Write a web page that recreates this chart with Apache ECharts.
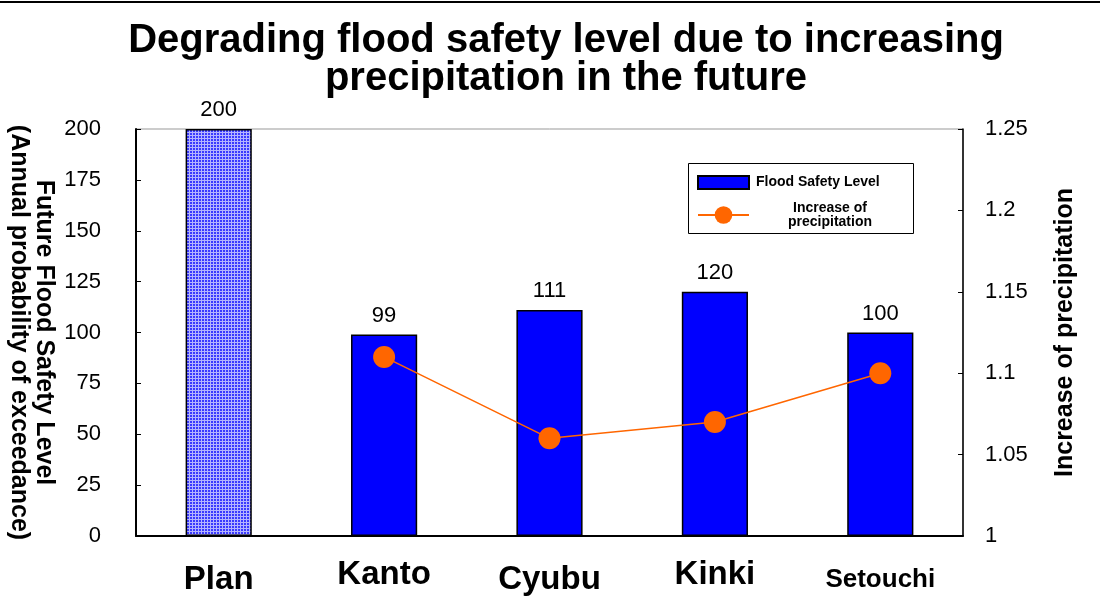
<!DOCTYPE html>
<html>
<head>
<meta charset="utf-8">
<script src="https://cdn.jsdelivr.net/npm/echarts@6/dist/echarts.min.js"></script>
<style>
  html, body { margin: 0; padding: 0; background: #fff; }
  #chart { width: 1100px; height: 612px; }
</style>
</head>
<body>
<div id="chart"></div>
<script>
// Regions and values
const categories = ['Plan', 'Kanto', 'Cyubu', 'Kinki', 'Setouchi'];
const safetyLevel = [200, 99, 111, 120, 100];          // return period (years)
const precipIncrease = [null, 1.11, 1.06, 1.07, 1.10];  // ratio of future to present rainfall
const leftTicks = [0, 200, 25];
const rightTicks = [1, 1.25, 0.05];

const FONT = '"Liberation Sans", Arial, Helvetica, sans-serif';

// Checkered fill for the planned level bar
function makePattern() {
  const c = document.createElement('canvas');
  c.width = 3; c.height = 3;
  const g = c.getContext('2d');
  g.fillStyle = '#3a3aff';
  g.fillRect(0, 0, 3, 3);
  g.fillStyle = '#b4b4ff';
  g.fillRect(0, 0, 3, 1);
  g.fillRect(0, 0, 1, 3);
  return c;
}

// Per-category label styles (font size and vertical offset)
const labelStyle = {
  Plan:     { size: 33, pad: 5 },
  Kanto:    { size: 33, pad: 0 },
  Cyubu:    { size: 33, pad: 5 },
  Kinki:    { size: 33, pad: 0 },
  Setouchi: { size: 26, pad: 9 }
};

const chart = echarts.init(document.getElementById('chart'), null, { renderer: 'canvas' });

const option = {
  animation: false,
  backgroundColor: '#fff',
  textStyle: { fontFamily: FONT },
  title: {
    text: 'Degrading flood safety level due to increasing\nprecipitation in the future',
    left: 561,
    top: 17,
    textAlign: 'center',
    textStyle: { fontFamily: FONT, fontSize: 40, fontWeight: 'bold', color: '#000', lineHeight: 38 }
  },
  graphic: [
    { type: 'line', shape: { x1: 0, y1: 2, x2: 1100, y2: 2 }, style: { stroke: '#000', lineWidth: 2 } },
    { type: 'rect', shape: { x: 688.5, y: 163.5, width: 225, height: 70 }, style: { fill: '#fff', stroke: '#000', lineWidth: 1 }, z: 0 }
  ],
  legend: [
    {
      data: ['Flood Safety Level'],
      icon: 'rect',
      left: 697, top: 175,
      itemWidth: 51, itemHeight: 13, itemGap: 4,
      padding: 0,
      textStyle: { fontFamily: FONT, fontSize: 14, fontWeight: 'bold', color: '#000', padding: [0, 0, 0, 2] }
    },
    {
      data: ['Increase of precipitation'],
      left: 697, top: 201,
      itemWidth: 51, itemHeight: 22,
      padding: 0,
      formatter: () => '{c|Increase of}\n{c|precipitation}',
      textStyle: {
        fontFamily: FONT, fontSize: 14, fontWeight: 'bold', color: '#000',
        rich: { c: { fontFamily: FONT, fontSize: 14, fontWeight: 'bold', color: '#000', width: 152, align: 'center', lineHeight: 14 } }
      }
    }
  ],
  grid: {
    left: 136, right: 137, top: 129, bottom: 76,
    outerBoundsMode: 'none',
    containLabel: false,
    show: true, borderColor: '#999', borderWidth: 1
  },
  xAxis: {
    type: 'category',
    data: categories.map(c => ({
      value: c,
      textStyle: { fontSize: labelStyle[c].size, padding: [labelStyle[c].pad, 0, 0, 0] }
    })),
    axisLine: { lineStyle: { color: '#000', width: 2 } },
    axisTick: { show: false },
    axisLabel: { interval: 0, margin: 22, fontFamily: FONT, fontWeight: 'bold', color: '#000', fontSize: 33 },
    splitLine: { show: false }
  },
  yAxis: [
    {
      type: 'value',
      min: leftTicks[0], max: leftTicks[1], interval: leftTicks[2],
      name: 'Future Flood Safety Level\n(Annual probability of exceedance)',
      nameLocation: 'middle',
      nameRotate: -90,
      nameGap: 80,
      nameMoveOverlap: false,
      nameTextStyle: { fontFamily: FONT, fontSize: 25, fontWeight: 'bold', color: '#000', lineHeight: 25 },
      axisLine: { show: true, lineStyle: { color: '#000', width: 2 } },
      axisTick: { show: true, inside: true, length: 5, lineStyle: { color: '#000' } },
      axisLabel: { margin: 35, fontFamily: FONT, fontSize: 22, color: '#000' },
      splitLine: { show: false }
    },
    {
      type: 'value',
      min: rightTicks[0], max: rightTicks[1], interval: rightTicks[2],
      name: 'Increase of precipitation',
      nameLocation: 'middle',
      nameRotate: 90,
      nameGap: 90,
      nameMoveOverlap: false,
      nameTextStyle: { fontFamily: FONT, fontSize: 25, fontWeight: 'bold', color: '#000' },
      axisLine: { show: true, lineStyle: { color: '#000', width: 1.5 } },
      axisTick: { show: true, inside: true, length: 5, lineStyle: { color: '#000' } },
      axisLabel: { margin: 22, fontFamily: FONT, fontSize: 22, color: '#000', formatter: v => String(+v.toFixed(2)) },
      splitLine: { show: false }
    }
  ],
  series: [
    {
      name: 'Flood Safety Level',
      type: 'bar',
      yAxisIndex: 0,
      barWidth: '40%',
      data: safetyLevel.map((v, i) => i === 0
        ? { value: v, itemStyle: { color: { image: makePattern(), repeat: 'repeat' } } }
        : v),
      itemStyle: { color: '#0000ff', borderColor: '#000', borderWidth: 1.5 },
      label: { show: true, position: 'top', distance: 8, fontFamily: FONT, fontSize: 22, color: '#000' }
    },
    {
      name: 'Increase of precipitation',
      type: 'line',
      yAxisIndex: 1,
      data: precipIncrease,
      symbol: 'circle',
      symbolSize: 22,
      itemStyle: { color: '#ff6600' },
      lineStyle: { color: '#ff6600', width: 1.5 },
      z: 5
    }
  ]
};

chart.setOption(option);
</script>
</body>
</html>
